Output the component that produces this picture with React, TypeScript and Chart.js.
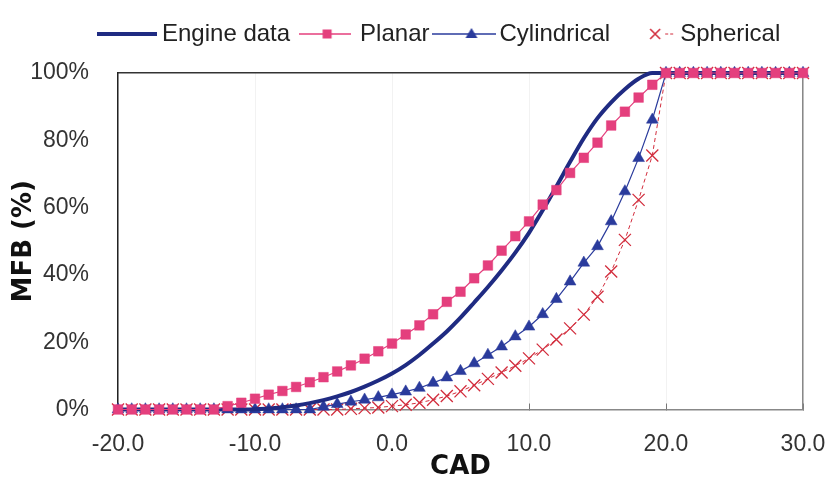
import React, { useEffect, useRef } from 'react';
import { Chart, registerables } from 'chart.js';

Chart.register(...registerables);

// Crank angle (CAD)
const cad = [
  -20, -19, -18, -17, -16, -15, -14, -13, -12, -11,
  -10, -9, -8, -7, -6, -5, -4, -3, -2, -1,
  0, 1, 2, 3, 4, 5, 6, 7, 8, 9,
  10, 11, 12, 13, 14, 15, 16, 17, 18, 19,
  20, 21, 22, 23, 24, 25, 26, 27, 28, 29, 30,
];

// Mass fraction burned (%)
const engineData = [
  0, 0, 0, 0, 0, 0, 0, 0, 0, 0,
  0.1, 0.3, 0.7, 1.2, 1.9, 2.8, 3.9, 5.2, 6.8, 8.6,
  10.7, 13.2, 16.2, 19.6, 23.2, 27.3, 31.8, 36.4, 41.3, 46.6,
  52.5, 59.2, 66.3, 73.6, 80.6, 86.6, 91.3, 95.2, 98.3, 100,
  100, 100, 100, 100, 100, 100, 100, 100, 100, 100, 100,
];

const planar = [
  0, 0, 0, 0, 0, 0, 0, 0, 1, 2,
  3.2, 4.4, 5.5, 6.7, 8.1, 9.6, 11.3, 13.1, 15.1, 17.3,
  19.6, 22.3, 25.0, 28.3, 32.0, 35.0, 39.0, 42.8, 47.2, 51.5,
  55.9, 60.9, 65.2, 70.3, 74.8, 79.3, 84.4, 88.5, 92.7, 96.5,
  100, 100, 100, 100, 100, 100, 100, 100, 100, 100, 100,
];

const cylindrical = [
  0, 0, 0, 0, 0, 0, 0, 0, 0, 0,
  0, 0, 0, 0, 0, 0.8, 1.6, 2.3, 2.9, 3.6,
  4.4, 5.3, 6.4, 7.9, 9.5, 11.4, 13.7, 16.2, 18.7, 21.7,
  24.6, 28.3, 32.8, 38.0, 43.6, 48.5, 55.9, 64.8, 74.7, 86.1,
  100, 100, 100, 100, 100, 100, 100, 100, 100, 100, 100,
];

const spherical = [
  0, 0, 0, 0, 0, 0, 0, 0, 0, 0,
  0, 0, 0, 0, 0, 0, 0, 0.2, 0.4, 0.6,
  1.0, 1.4, 2.0, 2.9, 4.0, 5.4, 7.2, 9.1, 11.0, 13.0,
  15.2, 17.8, 20.8, 24.1, 28.2, 33.5, 41.0, 50.4, 62.3, 75.5,
  100, 100, 100, 100, 100, 100, 100, 100, 100, 100, 100,
];

const seriesNames = ['Engine data', 'Planar', 'Cylindrical', 'Spherical'];

const NAVY = '#1f2b82';
const PINK = '#e43f7d';
const BLUE = '#2a3b9c';
const RED = '#d22d3d';

const SANS = '"Liberation Sans", Arial, sans-serif';
const BOLD = '"DejaVu Sans", sans-serif';

function toPoints(ys: number[]) {
  return cad.map((x, i) => ({ x, y: ys[i] }));
}

function makeSymbol(w: number, draw: (ctx: CanvasRenderingContext2D, w: number) => void) {
  const c = document.createElement('canvas');
  c.width = w;
  c.height = 24;
  const ctx = c.getContext('2d')!;
  draw(ctx, w);
  return c;
}

const legendShift = {
  id: 'legendShift',
  afterLayout(chart: any) {
    const lg = chart.legend;
    if (!lg) return;
    lg.left += 92;
    lg.top -= 17;
    lg.bottom -= 17;
  },
};

export default function App() {
  const ref = useRef<HTMLCanvasElement | null>(null);

  useEffect(() => {
    if (!ref.current) return;

    const symEngine = makeSymbol(60, (ctx, w) => {
      ctx.strokeStyle = NAVY;
      ctx.lineWidth = 4;
      ctx.beginPath();
      ctx.moveTo(0, 12);
      ctx.lineTo(w, 12);
      ctx.stroke();
    });
    const symPlanar = makeSymbol(52, (ctx, w) => {
      ctx.strokeStyle = PINK;
      ctx.lineWidth = 1.5;
      ctx.beginPath();
      ctx.moveTo(0, 12);
      ctx.lineTo(w, 12);
      ctx.stroke();
      ctx.fillStyle = PINK;
      ctx.fillRect(w / 2 - 2.5, 7.5, 9, 9);
    });
    const symCyl = makeSymbol(64, (ctx, w) => {
      ctx.strokeStyle = BLUE;
      ctx.lineWidth = 1.5;
      ctx.beginPath();
      ctx.moveTo(0, 12);
      ctx.lineTo(w, 12);
      ctx.stroke();
      const cx = w / 2 + 7;
      ctx.fillStyle = BLUE;
      ctx.beginPath();
      ctx.moveTo(cx, 6);
      ctx.lineTo(cx + 6, 16);
      ctx.lineTo(cx - 6, 16);
      ctx.closePath();
      ctx.fill();
    });
    const symSph = makeSymbol(64, (ctx, w) => {
      const cx = w / 2 + 10;
      ctx.strokeStyle = RED;
      ctx.lineWidth = 1.6;
      ctx.beginPath();
      ctx.moveTo(cx - 5, 7);
      ctx.lineTo(cx + 5, 17);
      ctx.moveTo(cx + 5, 7);
      ctx.lineTo(cx - 5, 17);
      ctx.stroke();
      ctx.lineWidth = 1;
      ctx.setLineDash([3, 2]);
      ctx.beginPath();
      ctx.moveTo(cx + 10, 12);
      ctx.lineTo(cx + 20, 12);
      ctx.stroke();
    });
    const symbols = [symEngine, symPlanar, symCyl, symSph];
    const symColors = [NAVY, PINK, BLUE, RED];

    const chart = new Chart(ref.current, {
      type: 'line',
      data: {
        datasets: [
          {
            label: seriesNames[0],
            data: toPoints(engineData),
            borderColor: NAVY,
            backgroundColor: NAVY,
            borderWidth: 4,
            pointRadius: 0,
            cubicInterpolationMode: 'monotone',
            order: 1,
            clip: false,
          },
          {
            label: seriesNames[1],
            data: toPoints(planar),
            borderColor: PINK,
            backgroundColor: PINK,
            borderWidth: 1.2,
            pointStyle: 'rect',
            pointRadius: 6.8,
            pointBackgroundColor: PINK,
            pointBorderColor: PINK,
            pointBorderWidth: 0.5,
            order: 0,
            clip: false,
          },
          {
            label: seriesNames[2],
            data: toPoints(cylindrical),
            borderColor: BLUE,
            backgroundColor: BLUE,
            borderWidth: 1.2,
            pointStyle: 'triangle',
            pointRadius: 6.8,
            pointBackgroundColor: BLUE,
            pointBorderColor: BLUE,
            pointBorderWidth: 0.5,
            order: 2,
            clip: false,
          },
          {
            label: seriesNames[3],
            data: toPoints(spherical),
            borderColor: RED,
            backgroundColor: RED,
            borderWidth: 1,
            borderDash: [4, 3],
            pointStyle: 'crossRot',
            pointRadius: 8.5,
            pointBorderColor: RED,
            pointBorderWidth: 1.3,
            order: 3,
            clip: false,
          },
        ],
      },
      options: {
        animation: false,
        responsive: true,
        maintainAspectRatio: false,
        layout: { padding: { top: 27, right: 28, bottom: 0, left: 0 } },
        plugins: {
          tooltip: { enabled: false },
          legend: {
            display: true,
            position: 'top',
            align: 'start',
            labels: {
              usePointStyle: true,
              pointStyleWidth: 46,
              padding: 12,
              color: '#222',
              font: { family: SANS, size: 24 },
              generateLabels: () =>
                seriesNames.map((text, i) => ({
                  text,
                  pointStyle: symbols[i],
                  fillStyle: symColors[i],
                  strokeStyle: symColors[i],
                  lineWidth: 0,
                  hidden: false,
                  datasetIndex: i,
                  fontColor: '#222',
                })),
            },
          },
        },
        scales: {
          x: {
            type: 'linear',
            position: 'bottom',
            min: -20,
            max: 30,
            ticks: {
              stepSize: 10,
              autoSkip: false,
              maxRotation: 0,
              padding: 27,
              color: '#333',
              font: { family: SANS, size: 23 },
              callback: (v: any) => Number(v).toFixed(1),
            },
            grid: {
              color: 'rgba(0,0,0,0.05)',
              tickColor: '#777',
              tickLength: -6,
              drawTicks: true,
            },
            border: { color: '#888', width: 1.5 },
            title: {
              display: true,
              text: 'CAD',
              color: '#111',
              font: { family: BOLD, size: 26, weight: 'bold', lineHeight: 0.85 },
              padding: { top: 0, bottom: 0 },
            },
            afterFit: (s: any) => {
              s.height = 68.5;
              s.paddingRight = 0;
              s.paddingLeft = 0;
            },
          },
          xTop: {
            type: 'linear',
            position: 'top',
            min: -20,
            max: 30,
            grid: { display: false },
            ticks: { display: false },
            border: { color: '#333', width: 1.5 },
            afterFit: (s: any) => {
              s.height = 0;
              s.paddingRight = 0;
              s.paddingLeft = 0;
            },
          },
          y: {
            type: 'linear',
            position: 'left',
            min: 0,
            max: 100,
            ticks: {
              stepSize: 20,
              padding: 21,
              color: '#333',
              font: { family: SANS, size: 23 },
              callback: (v: any) => v + '%',
            },
            grid: { display: false },
            border: { color: '#222', width: 1.5 },
            title: {
              display: true,
              text: 'MFB (%)',
              color: '#111',
              font: { family: BOLD, size: 26, weight: 'bold', lineHeight: 0.85 },
              padding: { top: 13, bottom: 0 },
            },
            afterFit: (s: any) => {
              s.width = 118;
            },
          },
          yRight: {
            type: 'linear',
            position: 'right',
            min: 0,
            max: 100,
            grid: { display: false },
            ticks: { display: false },
            border: { color: '#888', width: 1.5 },
            afterFit: (s: any) => {
              s.width = 0;
            },
          },
        },
      } as any,
      plugins: [legendShift],
    });

    return () => chart.destroy();
  }, []);

  return (
    <div style={{ position: 'fixed', left: 0, top: 0, width: 831, height: 478, background: '#fff' }}>
      <canvas ref={ref} />
    </div>
  );
}
